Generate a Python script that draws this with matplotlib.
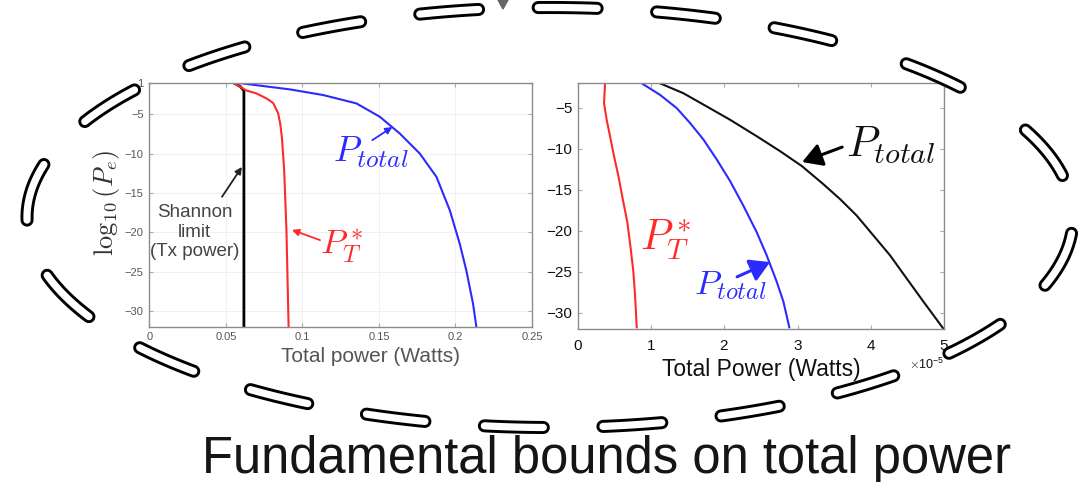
import numpy as np
import matplotlib
matplotlib.use("Agg")
import matplotlib.pyplot as plt
from matplotlib.patches import Polygon
from matplotlib.ticker import ScalarFormatter

plt.rcParams['font.family'] = ['Liberation Sans', 'DejaVu Sans']
plt.rcParams['mathtext.fontset'] = 'cm'

# ---------------- data ----------------
# Left panel: total power (W) vs log10(Pe)
left_shannon_x = [0.0550, 0.0595, 0.0618, 0.0618]
left_shannon_y = [-1.0, -1.5, -2.0, -32.0]

left_pt_x = [0.0548, 0.0635, 0.0700, 0.0766, 0.0810, 0.0842, 0.0855, 0.0866, 0.0881, 0.0896, 0.0910]
left_pt_y = [-1.0, -2.0, -2.36, -3.0, -3.6, -4.9, -6.2, -7.9, -12.1, -19.8, -32.0]

left_ptot_x = [0.0570, 0.0918, 0.1136, 0.1353, 0.1506, 0.1636, 0.1767, 0.1876, 0.1963, 0.2028, 0.2071, 0.2115, 0.2137]
left_ptot_y = [-1.0, -1.85, -2.57, -3.63, -5.33, -7.45, -10.0, -12.97, -17.21, -21.46, -24.85, -29.10, -32.07]

# Right panel: total power (units of 1e-5 W)
right_pt_x = [0.373, 0.364, 0.359, 0.395, 0.441, 0.495, 0.555, 0.614, 0.677, 0.723, 0.759, 0.782, 0.805]
right_pt_y = [-2.0, -3.61, -4.42, -6.44, -8.45, -10.87, -13.29, -16.11, -18.94, -22.16, -24.98, -27.81, -31.76]

right_ptot_blue_x = [0.873, 1.123, 1.350, 1.532, 1.714, 1.895, 2.077, 2.259, 2.441, 2.577, 2.714, 2.805, 2.886]
right_ptot_blue_y = [-2.0, -3.41, -5.02, -6.84, -8.85, -11.27, -13.90, -16.92, -20.15, -22.97, -26.19, -28.61, -31.76]

right_ptot_black_x = [1.123, 1.441, 1.759, 2.077, 2.441, 2.759, 3.055, 3.350, 3.577, 3.805, 4.032, 4.259, 4.486, 4.714, 4.964, 4.995]
right_ptot_black_y = [-2.0, -3.21, -4.82, -6.44, -8.45, -10.27, -12.08, -14.30, -16.11, -18.13, -20.55, -22.97, -25.79, -28.61, -31.64, -32.0]

left_xticks = [0, 0.05, 0.1, 0.15, 0.2, 0.25]
left_xticklabels = ['0', '0.05', '0.1', '0.15', '0.2', '0.25']
left_yticks = [-30, -25, -20, -15, -10, -5, -1]
left_yticklabels = ['\u221230', '\u221225', '\u221220', '\u221215', '\u221210', '\u22125', '1']
right_yticks = [-30, -25, -20, -15, -10, -5]
right_xticks = [0, 1, 2, 3, 4, 5]
X_SCALE = 1e-5

title_text = "Fundamental bounds on total power"

# ---------------- figure ----------------
W, H = 1081, 482
fig = plt.figure(figsize=(W / 100, H / 100), dpi=100)
fig.patch.set_facecolor('white')


def px_axes(x0, y0, x1, y1, **kw):
    return fig.add_axes([x0 / W, 1 - y1 / H, (x1 - x0) / W, (y1 - y0) / H], **kw)


BLUE = '#2b2bff'
RED = '#ff2a2a'
GRAY_SPINE = '#8c8c8c'

# ---------- left panel ----------
axL = px_axes(149.3, 82.7, 532, 326.7)
axL.plot(left_shannon_x, left_shannon_y, color='black', lw=2.0)
axL.plot(left_pt_x, left_pt_y, color=RED, lw=1.5)
axL.plot(left_ptot_x, left_ptot_y, color=BLUE, lw=1.5)
axL.set_xlim(0, 0.25)
axL.set_ylim(-32, -1)
axL.set_xticks(left_xticks)
axL.set_xticklabels(left_xticklabels)
axL.set_yticks(left_yticks)
axL.set_yticklabels(left_yticklabels)
axL.tick_params(direction='in', top=True, right=True, labelsize=8, labelcolor='#555555',
                color='#aaaaaa', length=3, pad=4)
axL.grid(True, color='#eeeeee', lw=0.6)
for s in axL.spines.values():
    s.set_color(GRAY_SPINE)
    s.set_linewidth(1.0)
axL.set_xlabel('Total power (Watts)', fontsize=15, color='#555555')
axL.xaxis.set_label_coords(0.577, -0.083)
axL.set_ylabel(r'$\log_{10}(P_e)$', fontsize=19, color='#333333')
axL.yaxis.set_label_coords(-0.071, 0.507)

# annotations left
axL.text(0.1444, -9.8, r'$P_{total}$', color=BLUE, fontsize=26, ha='center', va='center')
axL.annotate('', xy=(0.1588, -6.63), xytext=(0.1457, -8.3),
             arrowprops=dict(arrowstyle='-|>', color=BLUE, lw=1.3, mutation_scale=10,
                             shrinkA=0, shrinkB=0))
axL.text(0.1258, -21.8, r'$P_T^*$', color=RED, fontsize=25, ha='center', va='center')
axL.annotate('', xy=(0.0932, -19.7), xytext=(0.1115, -21.0),
             arrowprops=dict(arrowstyle='-|>', color=RED, lw=1.3, mutation_scale=10,
                             shrinkA=0, shrinkB=0))
axL.text(0.0297, -20.0, 'Shannon\nlimit\n(Tx power)', color='#444444', fontsize=13.5,
         ha='center', va='center', linespacing=1.2)
axL.annotate('', xy=(0.0605, -11.7), xytext=(0.0475, -15.5),
             arrowprops=dict(arrowstyle='-|>', color='#222222', lw=1.3, mutation_scale=10,
                             shrinkA=0, shrinkB=0))

# ---------- right panel ----------
axR = px_axes(577.7, 83.3, 944.3, 329.3)
axR.plot(np.array(right_pt_x) * X_SCALE, right_pt_y, color=RED, lw=1.5)
axR.plot(np.array(right_ptot_blue_x) * X_SCALE, right_ptot_blue_y, color=BLUE, lw=1.5)
axR.plot(np.array(right_ptot_black_x) * X_SCALE, right_ptot_black_y, color='#111111', lw=1.5)
axR.set_xlim(0, 5 * X_SCALE)
axR.set_ylim(-32, -2)
axR.set_xticks(np.array(right_xticks) * X_SCALE)
fmt = ScalarFormatter(useMathText=True)
fmt.set_powerlimits((-3, 3))
axR.xaxis.set_major_formatter(fmt)
axR.xaxis.get_offset_text().set_fontsize(9)
axR.xaxis.get_offset_text().set_color('#444444')
axR.set_yticks(right_yticks)
axR.set_yticklabels(['\u2212%d' % abs(v) for v in right_yticks])
axR.tick_params(direction='in', top=True, right=True, labelsize=11, labelcolor='#111111',
                color='#aaaaaa', length=3)
axR.tick_params(axis='x', pad=7)
axR.tick_params(axis='y', pad=4)
for s in axR.spines.values():
    s.set_color(GRAY_SPINE)
    s.set_linewidth(1.0)
axR.set_xlabel('Total Power (Watts)', fontsize=16.5, color='#111111')
axR.xaxis.set_label_coords(0.5, -0.118)

axR.text(4.273 * X_SCALE, -9.52, r'$P_{total}$', color='#111111', fontsize=31, ha='center', va='center')
axR.annotate('', xy=(3.061 * X_SCALE, -11.6), xytext=(3.607 * X_SCALE, -9.78),
             arrowprops=dict(arrowstyle='-|>,head_length=0.6,head_width=0.35', color='black',
                             lw=2.2, mutation_scale=20, shrinkA=0, shrinkB=0))
axR.text(1.204 * X_SCALE, -21.1, r'$P_T^*$', color=RED, fontsize=30, ha='center', va='center')
axR.text(2.079 * X_SCALE, -26.6, r'$P_{total}$', color=BLUE, fontsize=25, ha='center', va='center')
axR.annotate('', xy=(2.624 * X_SCALE, -23.8), xytext=(2.174 * X_SCALE, -25.6),
             arrowprops=dict(arrowstyle='-|>,head_length=0.6,head_width=0.35', color=BLUE,
                             lw=2.2, mutation_scale=20, shrinkA=0, shrinkB=0))

# ---------- overlay: dashed ellipse, title ----------
ov = fig.add_axes([0, 0, 1, 1], zorder=10)
ov.set_xlim(0, W)
ov.set_ylim(H, 0)
ov.axis('off')
ov.patch.set_alpha(0)

cx, cy, ea, eb = 550.0, 217.5, 523.0, 210.0
n_regular = 19          # evenly spaced dashes
dash_core = 59.0
dash_period = 118.6
t = np.linspace(0, 2 * np.pi, 6001)
ex = cx + ea * np.cos(t)
ey = cy - eb * np.sin(t)
seg = np.hypot(np.diff(ex), np.diff(ey))
s = np.concatenate([[0], np.cumsum(seg)])
perim = s[-1]
t_start = np.arccos((803 - cx) / ea)
s_start = np.interp(t_start, t, s)
centers = [s_start + k * dash_period for k in range(n_regular)]
# one more dash in the middle of the remaining (longer) gap
centers.append((centers[-1] + s_start + perim) / 2)
for c in centers:
    ss = np.mod(np.linspace(c - dash_core / 2, c + dash_core / 2, 40), perim)
    xs = np.interp(ss, s, ex)
    ys = np.interp(ss, s, ey)
    ov.plot(xs, ys, color='black', lw=9.4, solid_capstyle='round')
    ov.plot(xs, ys, color='white', lw=5.2, solid_capstyle='round')

ov.add_patch(Polygon([(498, 0), (508, 0), (503, 9)], closed=True, color='#666666'))

ov.text(607, 459, title_text, fontsize=36.5, ha='center', va='center', color='#151515')

fig.savefig('out.png', dpi=100, facecolor='white')
